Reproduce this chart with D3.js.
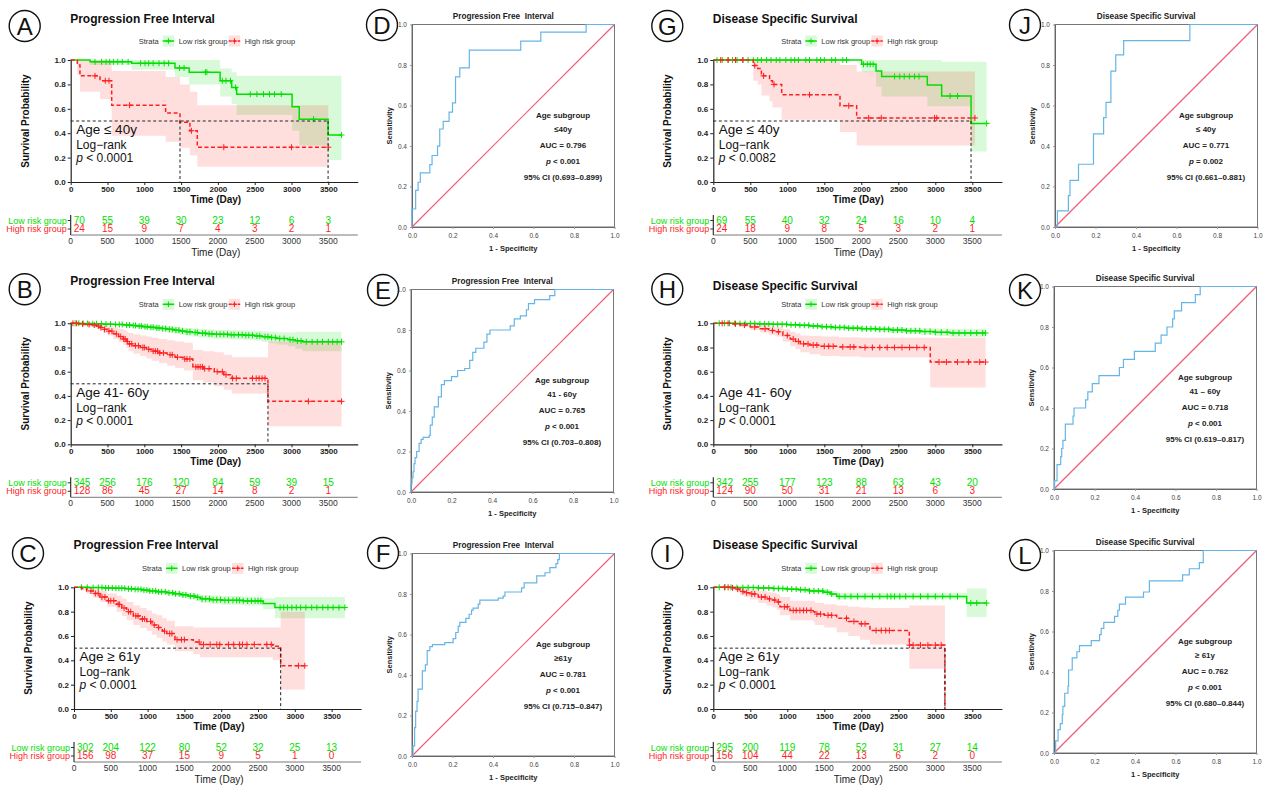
<!DOCTYPE html>
<html><head><meta charset="utf-8">
<script src="https://cdn.jsdelivr.net/npm/d3@7"></script>
<style>
body{margin:0;background:#fff;}
svg{display:block;font-family:"Liberation Sans",Arial,sans-serif;}
</style></head><body>
<svg id="fig" width="1263" height="785"></svg>
<script>
// ---- shared ticks ----
const kmTicksX = [0, 500, 1000, 1500, 2000, 2500, 3000, 3500];
const kmTicksY = [0, 0.2, 0.4, 0.6, 0.8, 1.0];
const riskTimes = [0, 500, 1000, 1500, 2000, 2500, 3000, 3500];
const rocTicks = [0, 0.2, 0.4, 0.6, 0.8, 1.0];
const groupNames = ["Low risk group", "High risk group"];

// ---- A: PFI, age <= 40 ----
const aLowT = [0, 262, 829, 1417, 1610, 2030, 2187, 2255, 3008, 3105, 3497];
const aLowS = [1, 0.985, 0.973, 0.935, 0.90, 0.83, 0.775, 0.72, 0.617, 0.515, 0.385];
const aLowU = [1, 1, 1, 1, 1, 0.93, 0.90, 0.87, 0.87, 0.87, 0.87];
const aLowL = [1, 0.96, 0.92, 0.86, 0.80, 0.70, 0.64, 0.55, 0.42, 0.30, 0.18];
const aLowC = [330, 420, 480, 530, 580, 640, 700, 780, 950, 1010, 1060, 1120, 1200, 1270, 1330, 1480, 1540, 1830, 1850, 2060, 2110, 2170, 2240, 2440, 2530, 2620, 2700, 2770, 2860, 3300, 3680];
const aHighT = [0, 90, 126, 398, 557, 1290, 1485, 1620, 1720];
const aHighS = [1, 0.96, 0.87, 0.83, 0.63, 0.565, 0.49, 0.42, 0.285];
const aHighU = [1, 1, 1, 1, 0.91, 0.86, 0.80, 0.74, 0.63];
const aHighL = [1, 0.88, 0.74, 0.68, 0.38, 0.33, 0.28, 0.22, 0.125];
const aHighC = [330, 470, 520, 800, 1640, 2080, 3000, 3500];
const aRiskLow = [70, 55, 39, 30, 23, 12, 6, 3];
const aRiskHigh = [24, 15, 9, 7, 4, 3, 2, 1];

// ---- B: PFI, age 41-60 ----
const bLowT = [0, 120, 280, 450, 600, 720, 820, 900, 980, 1060, 1150, 1230, 1310, 1400, 1480, 1560, 1650, 1740, 1850, 1950, 2150, 2350, 2500, 2600, 2700, 2800, 2950, 3050, 3150];
const bLowS = [1, 0.998, 0.996, 0.993, 0.99, 0.986, 0.982, 0.977, 0.972, 0.967, 0.962, 0.956, 0.95, 0.943, 0.936, 0.93, 0.924, 0.918, 0.913, 0.909, 0.905, 0.901, 0.896, 0.889, 0.882, 0.874, 0.865, 0.855, 0.847];
const bLowU = [1, 1, 1, 1, 1, 0.997, 0.995, 0.992, 0.99, 0.987, 0.984, 0.98, 0.976, 0.971, 0.966, 0.961, 0.957, 0.952, 0.948, 0.945, 0.942, 0.94, 0.937, 0.933, 0.93, 0.926, 0.925, 0.93, 0.93];
const bLowL = [1, 0.994, 0.99, 0.985, 0.98, 0.974, 0.968, 0.962, 0.955, 0.948, 0.94, 0.932, 0.924, 0.915, 0.906, 0.898, 0.89, 0.882, 0.876, 0.872, 0.867, 0.862, 0.855, 0.846, 0.836, 0.825, 0.81, 0.79, 0.77];
const bLowC = [60, 110, 170, 230, 300, 350, 420, 480, 540, 610, 660, 700, 760, 800, 850, 880, 930, 960, 1010, 1040, 1090, 1120, 1170, 1200, 1250, 1290, 1340, 1380, 1430, 1470, 1520, 1580, 1620, 1690, 1720, 1790, 1830, 1880, 1920, 1980, 2030, 2080, 2130, 2180, 2220, 2280, 2330, 2380, 2420, 2470, 2530, 2570, 2640, 2680, 2730, 2780, 2840, 2900, 2980, 3020, 3080, 3130, 3200, 3280, 3350, 3420, 3500, 3560, 3620, 3680];
const bHighT = [0, 100, 200, 300, 350, 400, 440, 500, 580, 650, 715, 760, 785, 850, 945, 1030, 1100, 1200, 1310, 1420, 1540, 1660, 1800, 1950, 2080, 2190, 2680];
const bHighS = [1, 0.995, 0.99, 0.985, 0.978, 0.965, 0.95, 0.935, 0.913, 0.89, 0.87, 0.85, 0.83, 0.815, 0.80, 0.785, 0.77, 0.755, 0.74, 0.72, 0.705, 0.64, 0.625, 0.60, 0.575, 0.545, 0.355];
const bHighU = [1, 1, 1, 1, 1, 0.99, 0.985, 0.975, 0.965, 0.955, 0.945, 0.93, 0.92, 0.91, 0.90, 0.89, 0.88, 0.87, 0.86, 0.85, 0.84, 0.78, 0.77, 0.76, 0.74, 0.72, 0.85];
const bHighL = [1, 0.985, 0.975, 0.965, 0.955, 0.94, 0.92, 0.90, 0.87, 0.845, 0.82, 0.795, 0.77, 0.75, 0.73, 0.71, 0.69, 0.67, 0.65, 0.63, 0.61, 0.53, 0.51, 0.48, 0.45, 0.42, 0.15];
const bHighC = [30, 80, 160, 250, 320, 380, 410, 460, 520, 560, 620, 680, 720, 740, 770, 800, 830, 880, 920, 980, 1000, 1060, 1120, 1150, 1180, 1210, 1260, 1350, 1380, 1450, 1550, 1580, 1620, 1700, 1730, 1760, 1790, 1820, 1880, 1990, 2060, 2110, 2200, 2250, 2470, 2520, 2560, 2600, 2640, 3230, 3680];
const bRiskLow = [345, 256, 176, 120, 84, 59, 39, 15];
const bRiskHigh = [128, 86, 45, 27, 14, 8, 2, 1];

// ---- C: PFI, age >= 61 ----
const cLowT = [0, 200, 400, 550, 700, 820, 920, 1020, 1120, 1250, 1350, 1450, 1550, 1650, 1720, 1850, 2000, 2300, 2570, 2730];
const cLowS = [1, 0.998, 0.995, 0.992, 0.988, 0.983, 0.977, 0.97, 0.963, 0.955, 0.947, 0.938, 0.928, 0.918, 0.905, 0.898, 0.893, 0.888, 0.866, 0.834];
const cLowU = [1, 1, 1, 1, 0.997, 0.994, 0.99, 0.985, 0.98, 0.975, 0.968, 0.962, 0.955, 0.947, 0.937, 0.932, 0.928, 0.925, 0.91, 0.92];
const cLowL = [1, 0.993, 0.988, 0.983, 0.977, 0.97, 0.962, 0.953, 0.944, 0.934, 0.924, 0.912, 0.9, 0.888, 0.872, 0.863, 0.857, 0.85, 0.82, 0.745];
const cLowC = [100, 180, 260, 330, 380, 430, 470, 520, 570, 610, 650, 690, 740, 780, 830, 870, 910, 950, 990, 1030, 1070, 1110, 1150, 1190, 1240, 1290, 1340, 1380, 1430, 1480, 1520, 1580, 1630, 1680, 1740, 1790, 1840, 1890, 1940, 1990, 2050, 2100, 2160, 2210, 2250, 2300, 2360, 2410, 2460, 2500, 2540, 2800, 2850, 2900, 2960, 3020, 3080, 3150, 3230, 3300, 3380, 3450, 3520, 3600, 3680];
const cHighT = [0, 100, 172, 260, 353, 450, 580, 650, 716, 806, 900, 988, 1060, 1124, 1200, 1259, 1372, 1621, 1712, 2700, 2808];
const cHighS = [1, 0.99, 0.97, 0.95, 0.92, 0.89, 0.86, 0.83, 0.80, 0.765, 0.74, 0.72, 0.69, 0.67, 0.64, 0.62, 0.57, 0.55, 0.53, 0.515, 0.355];
const cHighU = [1, 1, 1, 0.99, 0.97, 0.95, 0.93, 0.905, 0.88, 0.85, 0.83, 0.81, 0.785, 0.77, 0.745, 0.725, 0.68, 0.67, 0.67, 0.67, 0.80];
const cHighL = [1, 0.975, 0.945, 0.915, 0.88, 0.84, 0.80, 0.765, 0.73, 0.69, 0.665, 0.64, 0.61, 0.585, 0.555, 0.53, 0.475, 0.45, 0.425, 0.40, 0.16];
const cHighC = [230, 290, 330, 380, 420, 470, 500, 540, 600, 620, 680, 740, 770, 840, 870, 930, 960, 1040, 1090, 1150, 1230, 1300, 1330, 1400, 1460, 1500, 1700, 1760, 1850, 1940, 1980, 2100, 2170, 2250, 2290, 2350, 2450, 2620, 2680, 3050, 3136];
const cRiskLow = [302, 204, 122, 80, 52, 32, 25, 13];
const cRiskHigh = [156, 98, 37, 15, 9, 5, 1, 0];

// ---- G: DSS, age <= 40 ----
const gLowT = [0, 2005, 2199, 2275, 2892, 3086, 3483];
const gLowS = [1, 0.965, 0.91, 0.865, 0.795, 0.705, 0.48];
const gLowU = [1, 1, 1, 1, 1, 0.985, 0.985];
const gLowL = [1, 0.90, 0.78, 0.70, 0.62, 0.62, 0.25];
const gLowC = [50, 120, 200, 260, 320, 400, 470, 540, 600, 650, 720, 780, 850, 900, 980, 1050, 1100, 1150, 1250, 1300, 1400, 1450, 1500, 1600, 1650, 1750, 1800, 2030, 2080, 2120, 2160, 2450, 2520, 2580, 2650, 2720, 2780, 3200, 3300, 3694];
const gHighT = [0, 541, 600, 650, 760, 800, 924, 1712, 1937];
const gHighS = [1, 0.955, 0.93, 0.87, 0.83, 0.80, 0.715, 0.625, 0.525];
const gHighU = [1, 1, 1, 1, 1, 1, 1, 0.96, 0.905];
const gHighL = [1, 0.83, 0.80, 0.71, 0.66, 0.61, 0.51, 0.41, 0.30];
const gHighC = [100, 200, 300, 400, 560, 680, 820, 1300, 1830, 2100, 2270, 2990, 3020, 3536];
const gRiskLow = [69, 55, 40, 32, 24, 16, 10, 4];
const gRiskHigh = [24, 18, 9, 8, 5, 3, 2, 1];

// ---- H: DSS, age 41-60 ----
const hLowT = [0, 300, 600, 800, 1000, 1150, 1300, 1450, 1600, 1800, 2000, 2200, 2400, 2600, 2800, 3000, 3200];
const hLowS = [1, 0.998, 0.995, 0.992, 0.988, 0.984, 0.978, 0.972, 0.966, 0.96, 0.955, 0.95, 0.944, 0.938, 0.932, 0.926, 0.92];
const hLowU = [1, 1, 1, 1, 0.997, 0.995, 0.991, 0.987, 0.983, 0.979, 0.976, 0.972, 0.968, 0.964, 0.96, 0.956, 0.955];
const hLowL = [1, 0.994, 0.99, 0.985, 0.978, 0.972, 0.965, 0.957, 0.949, 0.941, 0.934, 0.927, 0.919, 0.911, 0.903, 0.895, 0.885];
const hLowC = [80, 150, 220, 290, 360, 430, 500, 560, 630, 690, 750, 810, 870, 930, 990, 1050, 1110, 1170, 1230, 1290, 1350, 1410, 1470, 1530, 1590, 1650, 1710, 1770, 1830, 1890, 1950, 2010, 2070, 2130, 2190, 2250, 2310, 2370, 2430, 2490, 2550, 2610, 2670, 2730, 2790, 2860, 2930, 3000, 3080, 3160, 3240, 3320, 3400, 3480, 3560, 3640, 3680];
const hHighT = [0, 250, 365, 500, 635, 750, 838, 940, 1040, 1110, 1176, 1300, 1446, 1700, 1986, 2932];
const hHighS = [1, 0.995, 0.985, 0.97, 0.955, 0.94, 0.93, 0.90, 0.87, 0.85, 0.83, 0.82, 0.81, 0.805, 0.80, 0.68];
const hHighU = [1, 1, 1, 0.995, 0.985, 0.975, 0.97, 0.95, 0.93, 0.915, 0.90, 0.895, 0.89, 0.885, 0.88, 0.88];
const hHighL = [1, 0.985, 0.97, 0.945, 0.925, 0.905, 0.89, 0.85, 0.81, 0.785, 0.76, 0.745, 0.73, 0.725, 0.72, 0.47];
const hHighC = [120, 200, 300, 420, 560, 700, 800, 880, 1000, 1080, 1150, 1220, 1280, 1350, 1400, 1500, 1560, 1620, 1750, 1850, 1900, 2050, 2150, 2250, 2350, 2450, 2550, 2650, 2750, 2850, 3050, 3150, 3300, 3450, 3600, 3680];
const hRiskLow = [342, 255, 177, 123, 88, 63, 43, 20];
const hRiskHigh = [124, 90, 50, 31, 21, 13, 6, 3];

// ---- I: DSS, age >= 61 ----
const iLowT = [0, 300, 600, 810, 1000, 1148, 1300, 1486, 1580, 1667, 3424];
const iLowS = [1, 0.998, 0.995, 0.99, 0.985, 0.98, 0.97, 0.96, 0.945, 0.925, 0.87];
const iLowU = [1, 1, 1, 1, 0.997, 0.994, 0.988, 0.982, 0.97, 0.955, 0.99];
const iLowL = [1, 0.994, 0.99, 0.982, 0.975, 0.966, 0.952, 0.94, 0.92, 0.90, 0.755];
const iLowC = [80, 160, 240, 320, 400, 470, 540, 610, 680, 750, 820, 880, 940, 1000, 1060, 1120, 1180, 1240, 1300, 1360, 1420, 1480, 1540, 1600, 1700, 1780, 1860, 1950, 2050, 2150, 2250, 2350, 2400, 2450, 2520, 2600, 2700, 2800, 2900, 3000, 3100, 3200, 3300, 3480, 3560, 3694];
const iHighT = [0, 225, 300, 360, 420, 495, 608, 721, 800, 856, 901, 1036, 1351, 1374, 1500, 1667, 1824, 1982, 2117, 2649, 3130];
const iHighS = [1, 0.995, 0.985, 0.965, 0.955, 0.945, 0.92, 0.905, 0.895, 0.88, 0.84, 0.81, 0.80, 0.78, 0.77, 0.745, 0.72, 0.70, 0.645, 0.525, 0];
const iHighU = [1, 1, 1, 0.995, 0.99, 0.985, 0.97, 0.96, 0.955, 0.945, 0.92, 0.89, 0.885, 0.87, 0.86, 0.85, 0.84, 0.835, 0.83, 0.85, 0.85];
const iHighL = [1, 0.985, 0.965, 0.935, 0.92, 0.90, 0.87, 0.85, 0.835, 0.815, 0.77, 0.73, 0.715, 0.69, 0.67, 0.63, 0.60, 0.57, 0.53, 0.33, 0.33];
const iHighC = [150, 200, 260, 330, 400, 450, 520, 560, 650, 700, 760, 830, 880, 960, 1000, 1080, 1120, 1170, 1220, 1260, 1320, 1400, 1450, 1550, 1600, 1800, 1900, 2000, 2050, 2200, 2270, 2330, 2380, 2650, 2700, 2800, 2900, 3000, 3080];
const iRiskLow = [295, 200, 119, 78, 52, 31, 27, 14];
const iRiskHigh = [156, 104, 44, 22, 13, 6, 2, 0];

// ---- ROC curves (1 - specificity, sensitivity) ----
const dFpr = [0, 0, 0.018, 0.03, 0.041, 0.088, 0.099, 0.126, 0.137, 0.154, 0.183, 0.2, 0.215, 0.236, 0.283, 0.537, 0.636, 0.86, 1];
const dTpr = [0, 0.089, 0.181, 0.221, 0.267, 0.308, 0.353, 0.399, 0.484, 0.522, 0.567, 0.613, 0.741, 0.786, 0.873, 0.918, 0.962, 1, 1];
const eFpr = [0, 0, 0.005, 0.01, 0.015, 0.02, 0.028, 0.04, 0.05, 0.06, 0.09, 0.095, 0.105, 0.115, 0.135, 0.15, 0.165, 0.2, 0.23, 0.265, 0.29, 0.305, 0.32, 0.36, 0.375, 0.39, 0.49, 0.51, 0.54, 0.57, 0.58, 0.61, 0.685, 0.71, 1];
const eTpr = [0, 0.04, 0.07, 0.1, 0.14, 0.17, 0.2, 0.24, 0.26, 0.27, 0.28, 0.33, 0.37, 0.42, 0.47, 0.53, 0.55, 0.57, 0.6, 0.61, 0.65, 0.69, 0.71, 0.74, 0.78, 0.80, 0.82, 0.855, 0.87, 0.9, 0.93, 0.95, 0.97, 1, 1];
const fFpr = [0, 0.005, 0.013, 0.018, 0.025, 0.03, 0.051, 0.066, 0.075, 0.088, 0.101, 0.162, 0.203, 0.216, 0.228, 0.236, 0.266, 0.282, 0.294, 0.302, 0.327, 0.335, 0.426, 0.45, 0.459, 0.541, 0.554, 0.616, 0.657, 0.681, 0.711, 0.72, 0.728, 1];
const fTpr = [0, 0.05, 0.14, 0.22, 0.27, 0.33, 0.42, 0.45, 0.52, 0.54, 0.55, 0.56, 0.58, 0.61, 0.64, 0.66, 0.68, 0.70, 0.72, 0.73, 0.75, 0.77, 0.78, 0.79, 0.81, 0.83, 0.855, 0.89, 0.905, 0.93, 0.95, 0.97, 1, 1];
const jFpr = [0, 0.012, 0.066, 0.074, 0.116, 0.19, 0.24, 0.252, 0.276, 0.3, 0.339, 0.666, 1];
const jTpr = [0, 0.08, 0.155, 0.23, 0.31, 0.46, 0.54, 0.615, 0.77, 0.85, 0.92, 1, 1];
const kFpr = [0, 0.003, 0.015, 0.033, 0.038, 0.044, 0.056, 0.094, 0.099, 0.156, 0.167, 0.189, 0.222, 0.323, 0.343, 0.397, 0.5, 0.529, 0.558, 0.586, 0.594, 0.63, 0.698, 0.722, 1];
const kTpr = [0, 0.04, 0.12, 0.16, 0.2, 0.24, 0.32, 0.36, 0.4, 0.44, 0.48, 0.52, 0.56, 0.6, 0.64, 0.68, 0.72, 0.76, 0.8, 0.84, 0.88, 0.92, 0.96, 1, 1];
const lFpr = [0, 0.008, 0.02, 0.031, 0.041, 0.044, 0.053, 0.069, 0.072, 0.09, 0.113, 0.126, 0.184, 0.225, 0.233, 0.246, 0.299, 0.315, 0.323, 0.353, 0.442, 0.471, 0.635, 0.668, 0.718, 0.737, 1];
const lTpr = [0, 0.06, 0.115, 0.145, 0.19, 0.23, 0.295, 0.33, 0.41, 0.47, 0.5, 0.53, 0.555, 0.585, 0.615, 0.645, 0.675, 0.705, 0.735, 0.77, 0.795, 0.85, 0.88, 0.91, 0.94, 1, 1];

const pfiTitle = "Progression Free Interval";
const dssTitle = "Disease Specific Survival";

// ---- styles ----
const GREEN = "#00e000", RED = "#ff1f1f", BLUE = "#66b5e6", DIAG = "#ee4d68";
const svg = d3.select("#fig");

function grp(time, surv, upper, lower, end, censor) {
    return { time, surv, upper, lower, end, censor };
}

function drawKM(p) {
    const g = svg.append("g");
    const xMax = 3900;
    const x = d3.scaleLinear().domain([0, xMax]).range([p.x0, p.x0 + xMax / 500 * p.step]);
    const y = d3.scaleLinear().domain([0, 1]).range([p.bottom, p.top]);

    // panel letter
    const cx = p.x0 - 46, cy = p.top - 34;
    g.append("circle").attr("cx", cx).attr("cy", cy).attr("r", 15.5)
        .attr("fill", "none").attr("stroke", "#111").attr("stroke-width", 1.4);
    g.append("text").attr("x", cx).attr("y", cy + 8.6).attr("text-anchor", "middle")
        .style("font-size", "24px").attr("fill", "#111").text(p.id);

    g.append("text").attr("x", p.x0 - 0.5).attr("y", p.titleY)
        .style("font-size", "12px").style("font-weight", "bold").attr("fill", "#111").text(p.title);

    // legend
    const lx = p.x0 + 68, ly = p.top - 19;
    g.append("text").attr("x", lx).attr("y", ly + 2.7).style("font-size", "7.5px").attr("fill", "#333").text("Strata");
    [[GREEN, null, groupNames[0], 24], [RED, "3,1.5", groupNames[1], 90]].forEach(([col, dash, lab, off]) => {
        g.append("rect").attr("x", lx + off).attr("y", ly - 5.5).attr("width", 11.5).attr("height", 11)
            .attr("fill", col).attr("fill-opacity", 0.15);
        g.append("line").attr("x1", lx + off).attr("x2", lx + off + 11.5).attr("y1", ly).attr("y2", ly)
            .attr("stroke", col).attr("stroke-width", 1.5).attr("stroke-dasharray", dash);
        g.append("path").attr("d", `M${lx + off + 3},${ly}h5.5M${lx + off + 5.75},${ly - 2.7}v5.4`)
            .attr("stroke", col).attr("stroke-width", 1);
        g.append("text").attr("x", lx + off + 16).attr("y", ly + 2.7).style("font-size", "7.5px").attr("fill", "#333").text(lab);
    });

    const series = [[p.low, GREEN, null], [p.high, RED, "4,2.5"]];
    const toPts = s => {
        const pts = s.time.map((t, i) => ({ t, s: s.surv[i], lo: s.lower[i], hi: s.upper[i] }));
        const last = pts[pts.length - 1];
        pts.push({ t: s.end, s: last.s, lo: last.lo, hi: last.hi });
        return pts;
    };
    const area = d3.area().x(d => x(d.t)).y0(d => y(d.lo)).y1(d => y(d.hi)).curve(d3.curveStepAfter);
    const line = d3.line().x(d => x(d.t)).y(d => y(d.s)).curve(d3.curveStepAfter);

    series.forEach(([s, col]) => {
        g.append("path").attr("d", area(toPts(s))).attr("fill", col).attr("fill-opacity", 0.15);
    });
    series.forEach(([s, col, dash]) => {
        g.append("path").attr("d", line(toPts(s))).attr("fill", "none")
            .attr("stroke", col).attr("stroke-width", 1.5).attr("stroke-dasharray", dash);
        const marks = s.censor.map(t => {
            const i = Math.max(0, d3.bisectRight(s.time, t) - 1);
            const px = x(t), py = y(s.surv[i]);
            return `M${px - 3},${py}h6M${px},${py - 3}v6`;
        }).join("");
        g.append("path").attr("d", marks).attr("stroke", col).attr("stroke-width", 1).attr("fill", "none");
    });

    // medians
    if (p.medians.length) {
        const mMax = d3.max(p.medians);
        g.append("line").attr("x1", x(0)).attr("x2", x(mMax)).attr("y1", y(0.5)).attr("y2", y(0.5))
            .attr("stroke", "#222").attr("stroke-width", 1).attr("stroke-dasharray", "3,2.5");
        p.medians.forEach(m => {
            g.append("line").attr("x1", x(m)).attr("x2", x(m)).attr("y1", y(0.5)).attr("y2", y(0))
                .attr("stroke", "#222").attr("stroke-width", 1).attr("stroke-dasharray", "3,2.5");
        });
    }

    // axes
    const ax = g.append("g").attr("transform", `translate(0,${p.bottom})`)
        .call(d3.axisBottom(x).tickValues(kmTicksX).tickFormat(d3.format("d")).tickSize(3).tickPadding(1.5).tickSizeOuter(0));
    const ay = g.append("g").attr("transform", `translate(${p.x0},0)`)
        .call(d3.axisLeft(y).tickValues(kmTicksY).tickFormat(d3.format(".1f")).tickSize(3).tickPadding(2).tickSizeOuter(0));
    [ax, ay].forEach(a => {
        a.select(".domain").attr("stroke", "#222").attr("stroke-width", 1.2);
        a.selectAll(".tick line").attr("stroke", "#222");
        a.selectAll("text").attr("fill", "#222").style("font-size", "8px").style("font-weight", "bold")
            .style("font-family", "'Liberation Sans', Arial, sans-serif");
    });

    g.append("text").attr("x", p.x0 + 145).attr("y", p.bottom + 21).attr("text-anchor", "middle")
        .style("font-size", "10px").style("font-weight", "bold").attr("fill", "#111").text("Time (Day)");
    g.append("text").attr("transform", `translate(${p.x0 - 42},${(p.top + p.bottom) / 2}) rotate(-90)`)
        .attr("text-anchor", "middle").style("font-size", "10px").style("font-weight", "bold").attr("fill", "#111")
        .text("Survival Probability");

    // annotation
    g.append("text").attr("x", p.x0 + 5.5).attr("y", p.top + 74).style("font-size", "13.5px").attr("fill", "#111").text(p.age);
    g.append("text").attr("x", p.x0 + 5.5).attr("y", p.top + 89).style("font-size", "12px").attr("fill", "#111").text("Log\u2212rank");
    const pt = g.append("text").attr("x", p.x0 + 5.5).attr("y", p.top + 102).style("font-size", "12px").attr("fill", "#111");
    pt.append("tspan").style("font-style", "italic").text("p");
    pt.append("tspan").text(" " + p.pval);

    // risk table
    const rows = [[p.riskLow, GREEN, groupNames[0], p.bottom + 41.5], [p.riskHigh, RED, groupNames[1], p.bottom + 50]];
    rows.forEach(([vals, col, lab, by]) => {
        g.append("text").attr("x", p.x0 - 4).attr("y", by).attr("text-anchor", "end")
            .style("font-size", "9px").attr("fill", col).text(lab);
        g.append("line").attr("x1", p.x0 - 3).attr("x2", p.x0).attr("y1", by - 3).attr("y2", by - 3).attr("stroke", "#333");
        g.selectAll(null).data(vals).enter().append("text")
            .attr("x", (d, i) => i === 0 ? x(riskTimes[i]) + 3 : x(riskTimes[i]))
            .attr("y", by).attr("text-anchor", (d, i) => i === 0 ? "start" : "middle")
            .style("font-size", "10px").attr("fill", col).text(d => d);
    });
    g.append("line").attr("x1", p.x0).attr("x2", p.x0).attr("y1", p.bottom + 33).attr("y2", p.bottom + 53)
        .attr("stroke", "#222").attr("stroke-width", 1.1);
    g.append("line").attr("x1", p.x0).attr("x2", x(xMax)).attr("y1", p.bottom + 53).attr("y2", p.bottom + 53)
        .attr("stroke", "#555").attr("stroke-width", 0.8);
    g.selectAll(null).data(riskTimes).enter().append("text")
        .attr("x", d => x(d)).attr("y", p.bottom + 62).attr("text-anchor", "middle")
        .style("font-size", "8.5px").attr("fill", "#333").text(d => d);
    if (p.tableLabel) {
        g.append("text").attr("x", p.x0 + 145).attr("y", p.bottom + 74).attr("text-anchor", "middle")
            .style("font-size", "10px").attr("fill", "#222").text("Time (Day)");
    }
}

function drawROC(p) {
    const g = svg.append("g");
    const size = 202.5;
    const x = d3.scaleLinear().domain([0, 1]).range([p.left, p.left + size]);
    const y = d3.scaleLinear().domain([0, 1]).range([p.bottom, p.bottom - size]);
    const top = p.bottom - size;

    g.append("circle").attr("cx", p.cx).attr("cy", p.cy).attr("r", 15.5)
        .attr("fill", "none").attr("stroke", "#111").attr("stroke-width", 1.4);
    g.append("text").attr("x", p.cx).attr("y", p.cy + 8.6).attr("text-anchor", "middle")
        .style("font-size", "24px").attr("fill", "#111").text(p.id);

    g.append("text").attr("x", p.left + size / 2 - 10).attr("y", top - 6).attr("text-anchor", "middle")
        .style("font-size", "8.2px").style("font-weight", "bold").style("white-space", "pre").attr("fill", "#222").text(p.title);

    g.append("rect").attr("x", x(0)).attr("y", top).attr("width", size).attr("height", size)
        .attr("fill", "none").attr("stroke", "#777").attr("stroke-width", 1);

    const ax = g.append("g").attr("transform", `translate(0,${p.bottom})`)
        .call(d3.axisBottom(x).tickValues(rocTicks).tickFormat(d3.format(".1f")).tickSize(2).tickSizeOuter(0));
    const ay = g.append("g").attr("transform", `translate(${p.left},0)`)
        .call(d3.axisLeft(y).tickValues(rocTicks).tickFormat(d3.format(".1f")).tickSize(2).tickSizeOuter(0));
    [ax, ay].forEach(a => {
        a.select(".domain").attr("stroke", "#666");
        a.selectAll(".tick line").attr("stroke", "#999");
        a.selectAll("text").attr("fill", "#444").style("font-size", "6.5px")
            .style("font-family", "'Liberation Sans', Arial, sans-serif");
    });
    ax.selectAll("text").attr("dy", "0.9em");

    // reference diagonal
    g.append("path").attr("d", d3.line()([[x(0), y(0)], [x(1), y(1)]]))
        .attr("fill", "none").attr("stroke", DIAG).attr("stroke-width", 1.2).attr("stroke-opacity", 0.9);
    const pts = p.fpr.map((f, i) => [f, p.tpr[i]]);
    g.append("path").attr("d", d3.line().x(d => x(d[0])).y(d => y(d[1])).curve(d3.curveStepAfter)(pts))
        .attr("fill", "none").attr("stroke", BLUE).attr("stroke-width", 1.2);

    g.append("text").attr("x", p.left + size / 2).attr("y", p.bottom + 24).attr("text-anchor", "middle")
        .style("font-size", "7.5px").style("font-weight", "bold").attr("fill", "#222").text("1 - Specificity");
    g.append("text").attr("transform", `translate(${p.left - 20},${top + size / 2}) rotate(-90)`)
        .attr("text-anchor", "middle").style("font-size", "7.5px").style("font-weight", "bold").attr("fill", "#222")
        .text("Sensitivity");

    const ax0 = p.left + 151;
    const offs = [93, 107, 123, 139, 155];
    const lines = ["Age subgroup", p.sub, p.auc, null, p.ci];
    lines.forEach((t, i) => {
        const tx = g.append("text").attr("x", ax0).attr("y", top + offs[i]).attr("text-anchor", "middle")
            .style("font-size", "8px").style("font-weight", "bold").attr("fill", "#222");
        if (t === null) {
            tx.append("tspan").style("font-style", "italic").text("p");
            tx.append("tspan").text(" " + p.pval);
        } else tx.text(t);
    });
}

const kmPanels = [
    { id: "A", title: pfiTitle, x0: 70.7, top: 60, bottom: 182, step: 36.8, titleY: 23, age: "Age \u2264 40y", pval: "< 0.0001",
      low: grp(aLowT, aLowS, aLowU, aLowL, 3680, aLowC), high: grp(aHighT, aHighS, aHighU, aHighL, 3500, aHighC),
      medians: [1485, 3497], riskLow: aRiskLow, riskHigh: aRiskHigh, tableLabel: true },
    { id: "B", title: pfiTitle, x0: 70.7, top: 323.3, bottom: 444.3, step: 36.8, titleY: 285, age: "Age 41- 60y", pval: "< 0.0001",
      low: grp(bLowT, bLowS, bLowU, bLowL, 3680, bLowC), high: grp(bHighT, bHighS, bHighU, bHighL, 3680, bHighC),
      medians: [2680], riskLow: bRiskLow, riskHigh: bRiskHigh, tableLabel: false },
    { id: "C", title: pfiTitle, x0: 74, top: 587.3, bottom: 709, step: 36.8, titleY: 549, age: "Age \u2265 61y", pval: "< 0.0001",
      low: grp(cLowT, cLowS, cLowU, cLowL, 3680, cLowC), high: grp(cHighT, cHighS, cHighU, cHighL, 3136, cHighC),
      medians: [2808], riskLow: cRiskLow, riskHigh: cRiskHigh, tableLabel: true },
    { id: "G", title: dssTitle, x0: 713.3, top: 60, bottom: 182, step: 37, titleY: 23, age: "Age \u2264 40y", pval: "< 0.0082",
      low: grp(gLowT, gLowS, gLowU, gLowL, 3694, gLowC), high: grp(gHighT, gHighS, gHighU, gHighL, 3536, gHighC),
      medians: [3483], riskLow: gRiskLow, riskHigh: gRiskHigh, tableLabel: true },
    { id: "H", title: dssTitle, x0: 713.3, top: 323.3, bottom: 444.3, step: 37, titleY: 290, age: "Age 41- 60y", pval: "< 0.0001",
      low: grp(hLowT, hLowS, hLowU, hLowL, 3680, hLowC), high: grp(hHighT, hHighS, hHighU, hHighL, 3680, hHighC),
      medians: [], riskLow: hRiskLow, riskHigh: hRiskHigh, tableLabel: false },
    { id: "I", title: dssTitle, x0: 713.3, top: 587.3, bottom: 709, step: 37, titleY: 549, age: "Age \u2265 61y", pval: "< 0.0001",
      low: grp(iLowT, iLowS, iLowU, iLowL, 3694, iLowC), high: grp(iHighT, iHighS, iHighU, iHighL, 3130, iHighC),
      medians: [3130], riskLow: iRiskLow, riskHigh: iRiskHigh, tableLabel: true }
];

const rocPanels = [
    { id: "D", title: "Progression Free  Interval", left: 412, bottom: 227, cx: 382, cy: 25, fpr: dFpr, tpr: dTpr,
      sub: "\u226440y", auc: "AUC = 0.796", pval: "< 0.001", ci: "95% CI (0.693\u20130.899)" },
    { id: "E", title: "Progression Free  Interval", left: 411, bottom: 492, cx: 383, cy: 290, fpr: eFpr, tpr: eTpr,
      sub: "41 - 60y", auc: "AUC = 0.765", pval: "< 0.001", ci: "95% CI (0.703\u20130.808)" },
    { id: "F", title: "Progression Free  Interval", left: 412, bottom: 756, cx: 383, cy: 553, fpr: fFpr, tpr: fTpr,
      sub: "\u226561y", auc: "AUC = 0.781", pval: "< 0.001", ci: "95% CI (0.715\u20130.847)" },
    { id: "J", title: dssTitle, left: 1055, bottom: 227, cx: 1025, cy: 25, fpr: jFpr, tpr: jTpr,
      sub: "\u2264 40y", auc: "AUC = 0.771", pval: "= 0.002", ci: "95% CI (0.661\u20130.881)" },
    { id: "K", title: dssTitle, left: 1054, bottom: 489, cx: 1025, cy: 290, fpr: kFpr, tpr: kTpr,
      sub: "41 \u2013 60y", auc: "AUC = 0.718", pval: "< 0.001", ci: "95% CI (0.619\u20130.817)" },
    { id: "L", title: dssTitle, left: 1054, bottom: 753, cx: 1025, cy: 555, fpr: lFpr, tpr: lTpr,
      sub: "\u2265 61y", auc: "AUC = 0.762", pval: "< 0.001", ci: "95% CI (0.680\u20130.844)" }
];

kmPanels.forEach(drawKM);
rocPanels.forEach(drawROC);
</script>
</body></html>
